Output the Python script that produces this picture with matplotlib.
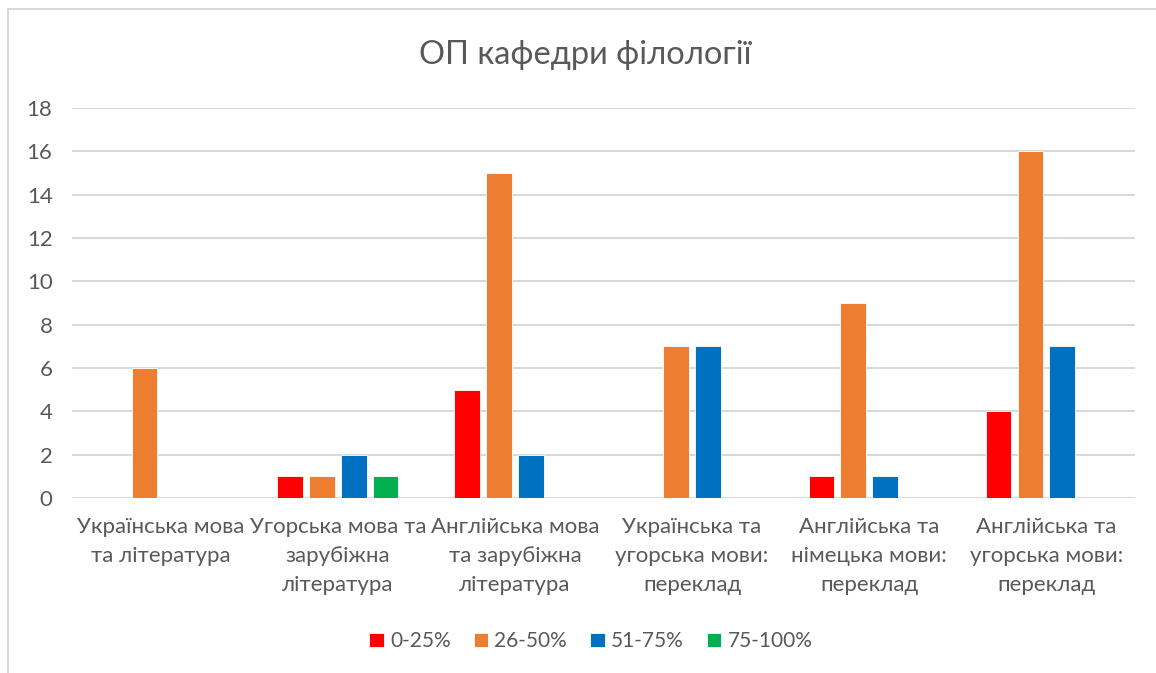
import matplotlib
matplotlib.use('Agg')
from matplotlib import pyplot as plt
from matplotlib.patches import Rectangle
import numpy as np

categories = [
    'Українська мова\nта література',
    'Угорська мова та\nзарубіжна\nлітература',
    'Англійська мова\nта зарубіжна\nлітература',
    'Українська та\nугорська мови:\nпереклад',
    'Англійська та\nнімецька мови:\nпереклад',
    'Англійська та\nугорська мови:\nпереклад',
]
series_names = ['0-25%', '26-50%', '51-75%', '75-100%']
vals_0_25 = [0, 1, 5, 0, 1, 4]
vals_26_50 = [6, 1, 15, 7, 9, 16]
vals_51_75 = [0, 2, 2, 7, 1, 7]
vals_75_100 = [0, 1, 0, 0, 0, 0]
colors = ['#FF0000', '#ED7D31', '#0070C0', '#00B050']

TEXT = '#595959'
plt.rcParams['font.family'] = ['Lato', 'DejaVu Sans']


def main():
    fig = plt.figure(figsize=(11.56, 6.73), dpi=100)
    ax = fig.add_axes([0.0623, 0.26, 0.9195, 0.5795])

    x = np.arange(len(categories))
    step = 0.18
    width = 0.145
    series = [vals_0_25, vals_26_50, vals_51_75, vals_75_100]
    for i, (name, vals) in enumerate(zip(series_names, series)):
        ax.bar(x + (i - 1.5) * step, vals, width, color=colors[i],
               label=name, edgecolor='white', linewidth=0.6, zorder=3)

    ax.set_xlim(-0.5, len(categories) - 0.5)
    ax.set_ylim(0, 18)
    ax.set_yticks(range(0, 19, 2))
    ax.yaxis.grid(True, color='#D9D9D9', linewidth=1.5, zorder=0)
    for s in ax.spines.values():
        s.set_visible(False)
    ax.tick_params(length=0, labelsize=16, labelcolor=TEXT)
    ax.tick_params(axis='y', pad=14)
    ax.set_xticks(x)
    ax.set_xticklabels(categories, linespacing=1.55)
    ax.tick_params(axis='x', pad=14)

    fig.text(0.506, 0.918, 'ОП кафедри філології', ha='center', va='center',
             fontsize=23.5, color=TEXT)

    leg = fig.legend(loc='center', bbox_to_anchor=(0.511, 0.047), ncol=4,
                     frameon=False, fontsize=15, handlelength=0.7,
                     handleheight=0.7, handletextpad=0.3, columnspacing=1.1)
    for t in leg.get_texts():
        t.set_color(TEXT)

    fig.patches.append(Rectangle((0.007, -0.1), 1.1, 1.087,
                                 transform=fig.transFigure, fill=False,
                                 edgecolor='#D9D9D9', linewidth=1.5))
    fig.savefig('out.png', dpi=100)


if __name__ == '__main__':
    main()
